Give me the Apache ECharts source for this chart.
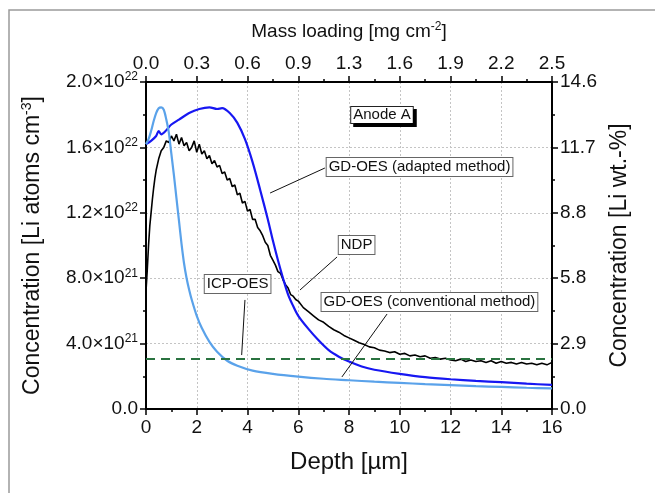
<!DOCTYPE html>
<html>
<head>
<meta charset="utf-8">
<script src="https://cdn.jsdelivr.net/npm/echarts@6/dist/echarts.min.js"></script>
<style>
  html, body { margin: 0; padding: 0; background: #fff; }
  #chart { width: 655px; height: 493px; }
</style>
</head>
<body>
<div id="chart"></div>
<script>
// depth in µm, concentration in units of 1e21 Li atoms cm^-3
const ndpDepth = [0.0, 0.05, 0.1, 0.15, 0.2, 0.25, 0.3, 0.35, 0.4, 0.5, 0.6, 0.7, 0.8, 0.9, 1.0, 1.1, 1.2, 1.3, 1.4, 1.5,
  1.6, 1.7, 1.8, 1.9, 2.0, 2.1, 2.2, 2.3, 2.4, 2.5, 2.6, 2.7, 2.8, 2.9, 3.0, 3.1, 3.2, 3.3, 3.4, 3.5,
  3.6, 3.7, 3.8, 3.9, 4.0, 4.1, 4.2, 4.3, 4.4, 4.5, 4.6, 4.7, 4.8, 4.9, 5.0, 5.1, 5.2, 5.3, 5.4, 5.5,
  5.6, 5.7, 5.8, 5.9, 6.0, 6.2, 6.4, 6.6, 6.8, 7.0, 7.2, 7.4, 7.6, 7.8, 8.0, 8.2, 8.4, 8.6, 8.8, 9.0,
  9.2, 9.4, 9.6, 9.8, 10.0, 10.2, 10.4, 10.6, 10.8, 11.0, 11.2, 11.4, 11.6, 11.8, 12.0, 12.2, 12.4, 12.6, 12.8, 13.0,
  13.2, 13.4, 13.6, 13.8, 14.0, 14.2, 14.4, 14.6, 14.8, 15.0, 15.2, 15.4, 15.6, 15.8, 16.0];
const ndpConc = [7.2, 8.5, 10.0, 11.2, 12.0, 12.8, 13.5, 14.1, 14.6, 15.3, 15.8, 16.0, 16.4, 16.3, 16.7, 16.4, 16.8, 16.2, 16.6, 16.1,
  16.3, 15.8, 16.0, 16.4, 15.7, 16.2, 15.6, 15.8, 15.3, 15.5, 15.0, 15.2, 14.8, 14.9, 14.4, 14.5, 14.0, 14.1, 13.6, 13.7,
  13.1, 13.2, 12.6, 12.7, 12.1, 12.2, 11.6, 11.6, 11.1, 10.9, 10.6, 10.2, 10.0, 9.4, 9.1, 8.8, 8.4, 8.3, 7.9, 7.6,
  7.4, 7.0, 6.9, 6.7, 6.6, 6.2, 5.95, 5.7, 5.45, 5.3, 5.05, 4.85, 4.7, 4.5, 4.35, 4.2, 4.05, 3.95, 3.8, 3.75,
  3.6, 3.55, 3.45, 3.5, 3.35, 3.4, 3.25, 3.3, 3.2, 3.25, 3.1, 3.15, 3.05, 3.1, 3.0, 2.95, 3.05, 2.9, 3.0, 2.9,
  2.95, 2.85, 2.95, 2.8, 2.9, 2.8, 2.85, 2.75, 2.85, 2.75, 2.8, 2.7, 2.8, 2.7, 2.85];

const adaptedDepth = [0.0, 0.2, 0.4, 0.5, 0.6, 0.8, 1.0, 1.3, 1.7, 2.1, 2.5, 2.8, 3.0, 3.3, 3.6, 3.9, 4.2, 4.5, 4.8, 5.0,
  5.2, 5.4, 5.6, 5.8, 6.0, 6.4, 6.8, 7.2, 7.6, 8.0, 8.5, 9.0, 10, 11, 12, 13, 14, 15, 16];
const adaptedConc = [16.2, 16.4, 16.7, 17.0, 16.8, 17.05, 17.4, 17.7, 18.1, 18.35, 18.45, 18.35, 18.4, 18.1, 17.5, 16.5, 15.1, 13.4, 11.6, 10.3,
  9.1, 8.0, 7.0, 6.3, 5.7, 4.9, 4.2, 3.6, 3.2, 2.9, 2.6, 2.4, 2.15, 1.95, 1.82, 1.72, 1.64, 1.55, 1.47];

const convDepth = [0.0, 0.1, 0.2, 0.3, 0.4, 0.5, 0.6, 0.7, 0.8, 0.9, 1.0, 1.1, 1.2, 1.3, 1.4, 1.5, 1.6, 1.7, 1.8, 2.0,
  2.2, 2.5, 2.8, 3.2, 3.6, 4.2, 5, 6, 7, 8, 9, 10, 11, 12, 13, 14, 15, 16];
const convConc = [16.2, 16.5, 17.0, 17.6, 18.1, 18.4, 18.45, 18.3, 17.7, 16.9, 15.6, 14.3, 12.9, 11.5, 10.1, 8.9, 8.0, 7.3, 6.7, 5.7,
  4.95, 4.1, 3.5, 2.95, 2.65, 2.35, 2.15, 1.98, 1.85, 1.76, 1.67, 1.6, 1.52, 1.46, 1.4, 1.35, 1.3, 1.26];

const icpDepth = [0, 16];
const icpConc = [3.06, 3.06];

const leftTickBase = ['0.0', '4.0×10', '8.0×10', '1.2×10', '1.6×10', '2.0×10'];
const leftTickExp = ['', '21', '21', '22', '22', '22'];
const rightTicks = ['0.0', '2.9', '5.8', '8.8', '11.7', '14.6'];
const topTicks = ['0.0', '0.3', '0.6', '0.9', '1.3', '1.6', '1.9', '2.2', '2.5'];

const FONT = 'Liberation Sans';
const INK = '#111';

const pairs = (xs, ys) => xs.map((x, i) => [x, ys[i]]);

const boxLabel = {
  show: true,
  position: 'inside',
  color: INK,
  fontFamily: FONT,
  fontSize: 15,
  backgroundColor: '#fff',
  borderColor: '#666',
  borderWidth: 1,
  padding: [2, 2, 1, 2],
};

function note(coord, text, extra) {
  return {
    coord: coord,
    symbol: 'rect',
    symbolSize: 1,
    itemStyle: { color: 'rgba(0,0,0,0)' },
    label: Object.assign({}, boxLabel, { formatter: text }, extra || {}),
  };
}

function leader(from, to) {
  return [{ coord: from }, { coord: to }];
}

const leaderStyle = {
  silent: true,
  symbol: ['none', 'none'],
  label: { show: false },
  lineStyle: { color: INK, width: 1, type: 'solid' },
  emphasis: { disabled: true },
  animation: false,
};

const axisCommon = {
  axisLine: { show: true, onZero: false, lineStyle: { color: '#000', width: 2 } },
  axisTick: { show: true, inside: false, length: 6, lineStyle: { color: '#000', width: 1.5 } },
  minorTick: { show: true, splitNumber: 2, length: 3, lineStyle: { color: '#000', width: 1.5 } },
  splitLine: { show: false },
};

const gridLine = { show: true, lineStyle: { color: '#c4c4c4', width: 1, type: [2, 2] } };

const chart = echarts.init(document.getElementById('chart'), null, { renderer: 'canvas' });

const options = {
  animation: false,
  backgroundColor: '#fff',
  textStyle: { fontFamily: FONT },
  grid: { left: 146, right: 103, top: 82, bottom: 84 },
  graphic: [{
    type: 'rect',
    shape: { x: 9, y: 10, width: 700, height: 600 },
    style: { fill: 'none', stroke: '#9a9a9a', lineWidth: 1.5 },
    silent: true,
  }],
  xAxis: [
    Object.assign({}, axisCommon, {
      type: 'value', position: 'bottom', min: 0, max: 16, interval: 2,
      splitLine: gridLine,
      axisLabel: { color: INK, fontSize: 19, fontFamily: FONT, margin: 9 },
      name: 'Depth [µm]', nameLocation: 'middle', nameGap: 41,
      nameTextStyle: { color: INK, fontSize: 24, fontFamily: FONT },
    }),
    Object.assign({}, axisCommon, {
      type: 'value', position: 'top', min: 0, max: 2.5, interval: 0.3125,
      axisLabel: {
        color: INK, fontSize: 19, fontFamily: FONT, margin: 9,
        formatter: (v) => topTicks[Math.round(v / 0.3125)],
      },
      name: '{t|Mass loading [mg cm}{s|-2}{t|]}', nameLocation: 'middle', nameGap: 39,
      nameTextStyle: {
        rich: {
          t: { color: INK, fontSize: 19, fontFamily: FONT },
          s: { color: INK, fontSize: 12, fontFamily: FONT, padding: [0, 0, 10, 0] },
        },
      },
    }),
  ],
  yAxis: [
    Object.assign({}, axisCommon, {
      type: 'value', position: 'left', min: 0, max: 20, interval: 4,
      splitLine: gridLine,
      axisLabel: {
        margin: 8,
        formatter: (v) => {
          const i = Math.round(v / 4);
          return leftTickExp[i] ? `{b|${leftTickBase[i]}}{s|${leftTickExp[i]}}` : `{b|${leftTickBase[i]}}`;
        },
        rich: {
          b: { color: INK, fontSize: 19, fontFamily: FONT },
          s: { color: INK, fontSize: 12, fontFamily: FONT, padding: [0, 0, 10, 0] },
        },
      },
      name: '{t|Concentration [Li atoms cm}{s|-3}{t|]}', nameLocation: 'middle', nameGap: 100, nameRotate: 90,
      nameTextStyle: {
        rich: {
          t: { color: INK, fontSize: 23, fontFamily: FONT },
          s: { color: INK, fontSize: 14, fontFamily: FONT, padding: [0, 0, 12, 0] },
        },
      },
    }),
    Object.assign({}, axisCommon, {
      type: 'value', position: 'right', min: 0, max: 14.6, interval: 2.92,
      axisLabel: {
        color: INK, fontSize: 19, fontFamily: FONT, margin: 8,
        formatter: (v) => rightTicks[Math.round(v / 2.92)],
      },
      name: 'Concentration [Li wt.-%]', nameLocation: 'middle', nameGap: 55, nameRotate: 90,
      nameTextStyle: { color: INK, fontSize: 23, fontFamily: FONT },
    }),
  ],
  series: [
    {
      name: 'NDP', type: 'line', xAxisIndex: 0, yAxisIndex: 0,
      data: pairs(ndpDepth, ndpConc), showSymbol: false, symbol: 'none',
      lineStyle: { color: '#000', width: 1.6 }, z: 3,
      markPoint: { silent: true, data: [note([8.3, 10.03], 'NDP')] },
      markLine: Object.assign({}, leaderStyle, { data: [leader([6.07, 7.28], [7.53, 9.3])] }),
    },
    {
      name: 'GD-OES (adapted method)', type: 'line', xAxisIndex: 0, yAxisIndex: 0,
      data: pairs(adaptedDepth, adaptedConc), showSymbol: false, symbol: 'none', smooth: 0.3,
      lineStyle: { color: '#1717f2', width: 2.2 }, z: 4,
      markPoint: {
        silent: true,
        data: [
          note([10.78, 14.8], 'GD-OES (adapted method)'),
          note([9.3, 17.98], 'Anode A', {
            borderColor: '#222', padding: [1, 2, 0, 2],
            shadowColor: '#000', shadowOffsetX: 3, shadowOffsetY: 3, shadowBlur: 0,
          }),
        ],
      },
      markLine: Object.assign({}, leaderStyle, { data: [leader([4.89, 13.21], [7.05, 14.74])] }),
    },
    {
      name: 'GD-OES (conventional method)', type: 'line', xAxisIndex: 0, yAxisIndex: 0,
      data: pairs(convDepth, convConc), showSymbol: false, symbol: 'none', smooth: 0.3,
      lineStyle: { color: '#5aa2ea', width: 2.2 }, z: 5,
      markPoint: { silent: true, data: [note([11.17, 6.54], 'GD-OES (conventional method)')] },
      markLine: Object.assign({}, leaderStyle, { data: [leader([9.5, 5.81], [7.72, 1.96])] }),
    },
    {
      name: 'ICP-OES', type: 'line', xAxisIndex: 0, yAxisIndex: 0,
      data: pairs(icpDepth, icpConc), showSymbol: false, symbol: 'none',
      lineStyle: { color: '#2a7340', width: 2, type: [9, 6] }, z: 6,
      markPoint: { silent: true, data: [note([3.61, 7.65], 'ICP-OES')] },
      markLine: Object.assign({}, leaderStyle, { data: [leader([3.9, 6.67], [3.77, 3.3])] }),
    },
  ],
};

chart.setOption(options);
</script>
</body>
</html>
